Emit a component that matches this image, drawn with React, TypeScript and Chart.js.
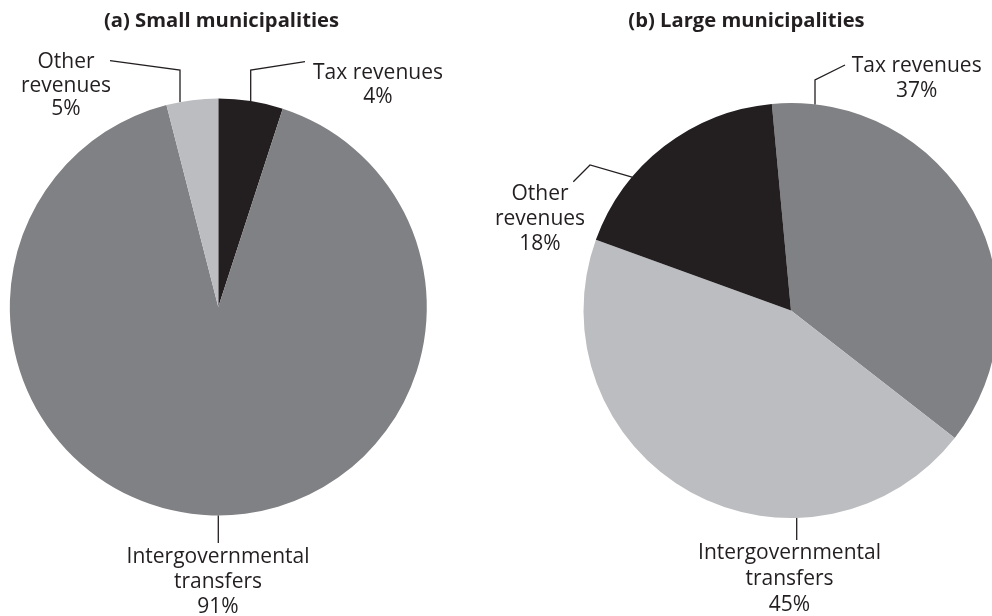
import React, { useEffect, useRef } from "react";
import { Chart, registerables } from "chart.js";

Chart.register(...registerables);

// ---- data ----
const categories = ["Tax revenues", "Intergovernmental transfers", "Other revenues"];
// slice shares as drawn in the figure (clockwise from 12 o'clock)
const smallShares = [5, 91, 4];
const largeShares = [37, 45, 18];
// printed percentage labels
const smallPctLabels = ["4%", "91%", "5%"];
const largePctLabels = ["37%", "45%", "18%"];
const titles = ["(a) Small municipalities", "(b) Large municipalities"];

const BLACK = "#231f20";
const MID = "#808184";
const LIGHT = "#bcbdc0";
const smallColors = [BLACK, MID, LIGHT];
const largeColors = [MID, LIGHT, BLACK];

const LABEL_FONT = '"Open Sans"';
const LABEL_SIZE = 21;
const TITLE_FONT = '"Open Sans"';
const TITLE_SIZE = 20.2;

type LabelSpec = {
  lines: string[];
  x: number;
  y: number;
  lh: number;
  leader: number[][];
  endVertical?: boolean;
  endAngle?: number;
};
type Spec = { offsetX: number; title: { text: string; x: number; y: number }; labels: LabelSpec[] };

const leftSpec: Spec = {
  offsetX: 0,
  title: { text: titles[0], x: 221.5, y: 27 },
  labels: [
    { lines: ["Tax revenues", smallPctLabels[0]], x: 378, y: 79.3, lh: 24, leader: [[305, 61.7], [250.7, 70]], endVertical: true },
    { lines: ["Intergovernmental", "transfers", smallPctLabels[1]], x: 218, y: 563.3, lh: 25, leader: [[218.3, 543]], endVertical: true },
    { lines: ["Other", "revenues", smallPctLabels[2]], x: 66, y: 68.3, lh: 23.5, leader: [[110, 60.7], [180, 70]], endVertical: true },
  ],
};

const rightSpec: Spec = {
  offsetX: 496,
  title: { text: titles[1], x: 746.5, y: 27 },
  labels: [
    { lines: ["Tax revenues", largePctLabels[0]], x: 916.7, y: 71.5, lh: 25, leader: [[845, 65], [815, 80]], endVertical: true },
    { lines: ["Intergovernmental", "transfers", largePctLabels[1]], x: 789.5, y: 559.3, lh: 26, leader: [[796.7, 540]], endVertical: true },
    { lines: ["Other", "revenues", largePctLabels[2]], x: 540, y: 199.5, lh: 25, leader: [[573.3, 181.7], [590, 165]], endAngle: 310 },
  ],
};

function annotPlugin(spec: Spec) {
  return {
    id: "annot",
    afterDraw(chart: any) {
      const ctx: CanvasRenderingContext2D = chart.ctx;
      const arc: any = chart.getDatasetMeta(0).data[0];
      const cx = arc.x, cy = arc.y, r = arc.outerRadius;
      const ox = spec.offsetX;
      ctx.save();
      ctx.fillStyle = BLACK;
      ctx.strokeStyle = BLACK;
      ctx.textAlign = "center";
      ctx.textBaseline = "alphabetic";
      ctx.font = `bold ${TITLE_SIZE}px ${TITLE_FONT}`;
      ctx.fillText(spec.title.text, spec.title.x - ox, spec.title.y);
      ctx.font = `${LABEL_SIZE}px ${LABEL_FONT}`;
      for (const l of spec.labels) {
        l.lines.forEach((t, i) => ctx.fillText(t, l.x - ox, l.y + i * l.lh));
        const pts = l.leader.map((p) => [p[0] - ox, p[1]]);
        const last = pts[pts.length - 1];
        let end: number[];
        if (l.endAngle !== undefined) {
          const a = (l.endAngle * Math.PI) / 180;
          end = [cx + r * Math.sin(a), cy - r * Math.cos(a)];
        } else {
          const dx = last[0] - cx;
          const h = Math.sqrt(Math.max(r * r - dx * dx, 0));
          const y1 = cy - h, y2 = cy + h;
          end = [last[0], Math.abs(y1 - last[1]) < Math.abs(y2 - last[1]) ? y1 : y2];
        }
        ctx.lineWidth = 1.3;
        ctx.beginPath();
        ctx.moveTo(pts[0][0], pts[0][1]);
        for (let i = 1; i < pts.length; i++) ctx.lineTo(pts[i][0], pts[i][1]);
        ctx.lineTo(end[0], end[1]);
        ctx.stroke();
      }
      ctx.restore();
    },
  };
}

function makePie(canvas: HTMLCanvasElement, shares: number[], colors: string[], rotation: number, padding: any, spec: Spec) {
  return new Chart(canvas, {
    type: "pie",
    data: {
      labels: categories,
      datasets: [
        {
          data: shares,
          backgroundColor: colors,
          borderWidth: 0,
          hoverBorderWidth: 0,
          offset: 0,
          hoverOffset: 0,
        } as any,
      ],
    },
    options: {
      responsive: false,
      animation: false,
      rotation,
      layout: { padding },
      events: [],
      plugins: { legend: { display: false }, tooltip: { enabled: false }, title: { display: false } },
    } as any,
    plugins: [annotPlugin(spec)],
  });
}

export default function App() {
  const leftRef = useRef<HTMLCanvasElement>(null);
  const rightRef = useRef<HTMLCanvasElement>(null);

  useEffect(() => {
    const c1 = makePie(leftRef.current!, smallShares, smallColors, 0, { left: 9.8, right: 69.2, top: 98.5, bottom: 100.5 }, leftSpec);
    const c2 = makePie(rightRef.current!, largeShares, largeColors, -5.3, { left: 87.5, right: 57.5, top: 103, bottom: 98 }, rightSpec);
    return () => {
      c1.destroy();
      c2.destroy();
    };
  }, []);

  return (
    <div style={{ position: "absolute", left: 0, top: 0, width: 992, height: 616, overflow: "hidden", background: "#fff" }}>
      <canvas ref={leftRef} width={496} height={616} style={{ position: "absolute", left: 0, top: 0 }} />
      <canvas ref={rightRef} width={560} height={616} style={{ position: "absolute", left: 496, top: 0 }} />
    </div>
  );
}
